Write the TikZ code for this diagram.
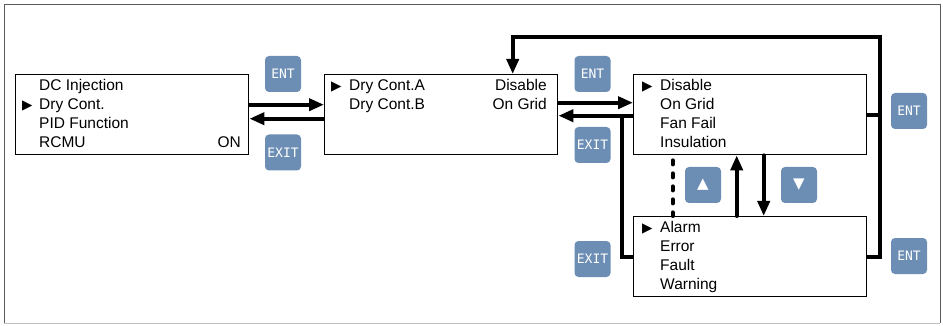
\documentclass[tikz,border=0pt]{standalone}
\usepackage{fontspec}
\setmainfont{Liberation Sans}
\newfontfamily\keyfont{DejaVu Sans Mono}
\newfontfamily\symfont{DejaVu Sans}
\usetikzlibrary{arrows.meta,positioning}
\definecolor{keyBlue}{RGB}{108,142,180}
\definecolor{frameGray}{RGB}{90,90,90}

\begin{document}
\begin{tikzpicture}[x=1pt,y=-1pt,
        font=\fontsize{15.5}{19}\selectfont,
        scr/.style={draw,line width=1.4pt,minimum width=233pt,
                    minimum height=80pt,anchor=north west,inner sep=0pt},
        ln/.style={anchor=base west,inner sep=0pt},
        rt/.style={anchor=base east,inner sep=0pt},
        ptr/.style={ln,font=\symfont\fontsize{13.5}{13.5}\selectfont},
        key/.style={fill=keyBlue,rounded corners=4pt,minimum size=36pt,
                    inner sep=0pt,text=white,
                    font=\keyfont\fontsize{13}{14}\selectfont},
        arw/.style={key,font=\symfont\fontsize{15}{15}\selectfont},
        flow/.style={line width=4pt,-{Triangle[length=15pt,width=12pt]}}]
        \useasboundingbox (0,0) rectangle (943,326);
        \draw[frameGray,line width=1pt] (4,323) -- (4,5) -- (940,5) -- (940,323);
        \draw[black!25,line width=1pt] (4,323) -- (940,323);

        % screens
        \node[scr] (menu) at (15,74) {};
        \node[scr] (ctl) at (324,74) {};
        \node[scr] (sel) at (633,74) {};
        \node[scr] (evt) at (633,216) {};

        \foreach \t [count=\i] in {DC Injection,Dry Cont.,PID Function,RCMU}
          \node[ln] (menu-\i) at (39,{71.5+19*\i}) {\t};
        \node[ptr] (menu-ptr) at (22,109.5) {▶};
        \node[rt] (menu-on) at (241,147.5) {ON};

        \foreach \t [count=\i] in {Dry Cont.A,Dry Cont.B}
          \node[ln] (ctl-\i) at (349,{71.5+19*\i}) {\t};
        \foreach \t [count=\i] in {Disable,On Grid}
          \node[rt] (ctlv-\i) at (547,{71.5+19*\i}) {\t};
        \node[ptr] (ctl-ptr) at (331,90.5) {▶};

        \foreach \t [count=\i] in {Disable,On Grid,Fan Fail,Insulation}
          \node[ln] (sel-\i) at (660,{71.5+19*\i}) {\t};
        \node[ptr] (sel-ptr) at (642,90.5) {▶};

        \foreach \t [count=\i] in {Alarm,Error,Fault,Warning}
          \node[ln] (evt-\i) at (660,{213.5+19*\i}) {\t};
        \node[ptr] (evt-ptr) at (642,232.5) {▶};

        % keys
        \node[key] (ent-a) at (283,74) {ENT};
        \node[key] (exit-a) at (283,152.5) {EXIT};
        \node[key] (ent-b) at (592.5,74) {ENT};
        \node[key] (exit-b) at (592.5,145) {EXIT};
        \node[key] (exit-c) at (592.5,259) {EXIT};
        \node[key] (ent-c) at (909,111) {ENT};
        \node[key] (ent-d) at (909,256) {ENT};
        \node[arw] (key-up) at (703,185) {▲};
        \node[arw] (key-dn) at (799,185) {▼};

        % connectors
        \draw[flow] ([yshift=10pt]menu.east) -- ([yshift=10pt]ctl.west);
        \draw[flow] ([yshift=-4pt]ctl.west) -- ([yshift=-4pt]menu.east);
        \draw[flow] ([yshift=12pt]ctl.east) -- ([yshift=12pt]sel.west);
        \draw[flow] ([yshift=-1pt]sel.west) -- ([yshift=-1pt]ctl.east);
        \coordinate (exj) at (622,115);
        \draw[flow,-] (evt.west) -| (exj);
        \coordinate (entj) at (880,37);
        \draw[flow] (sel.east) -| (entj) -| ([xshift=71.5pt]ctl.north);
        \draw[flow,-] (evt.east) -| (entj);
        \draw[line width=4pt,dash pattern=on 4pt off 9pt,line cap=round]
          ([xshift=-77.5pt,yshift=-5pt]sel.south) -- ([xshift=-77.5pt]evt.north);
        \draw[flow,line cap=round] ([xshift=-13.5pt]evt.north) -- ([xshift=-13.5pt]sel.south);
        \draw[flow,line cap=round] ([xshift=13.5pt]sel.south) -- ([xshift=13.5pt]evt.north);
\end{tikzpicture}
\end{document}
